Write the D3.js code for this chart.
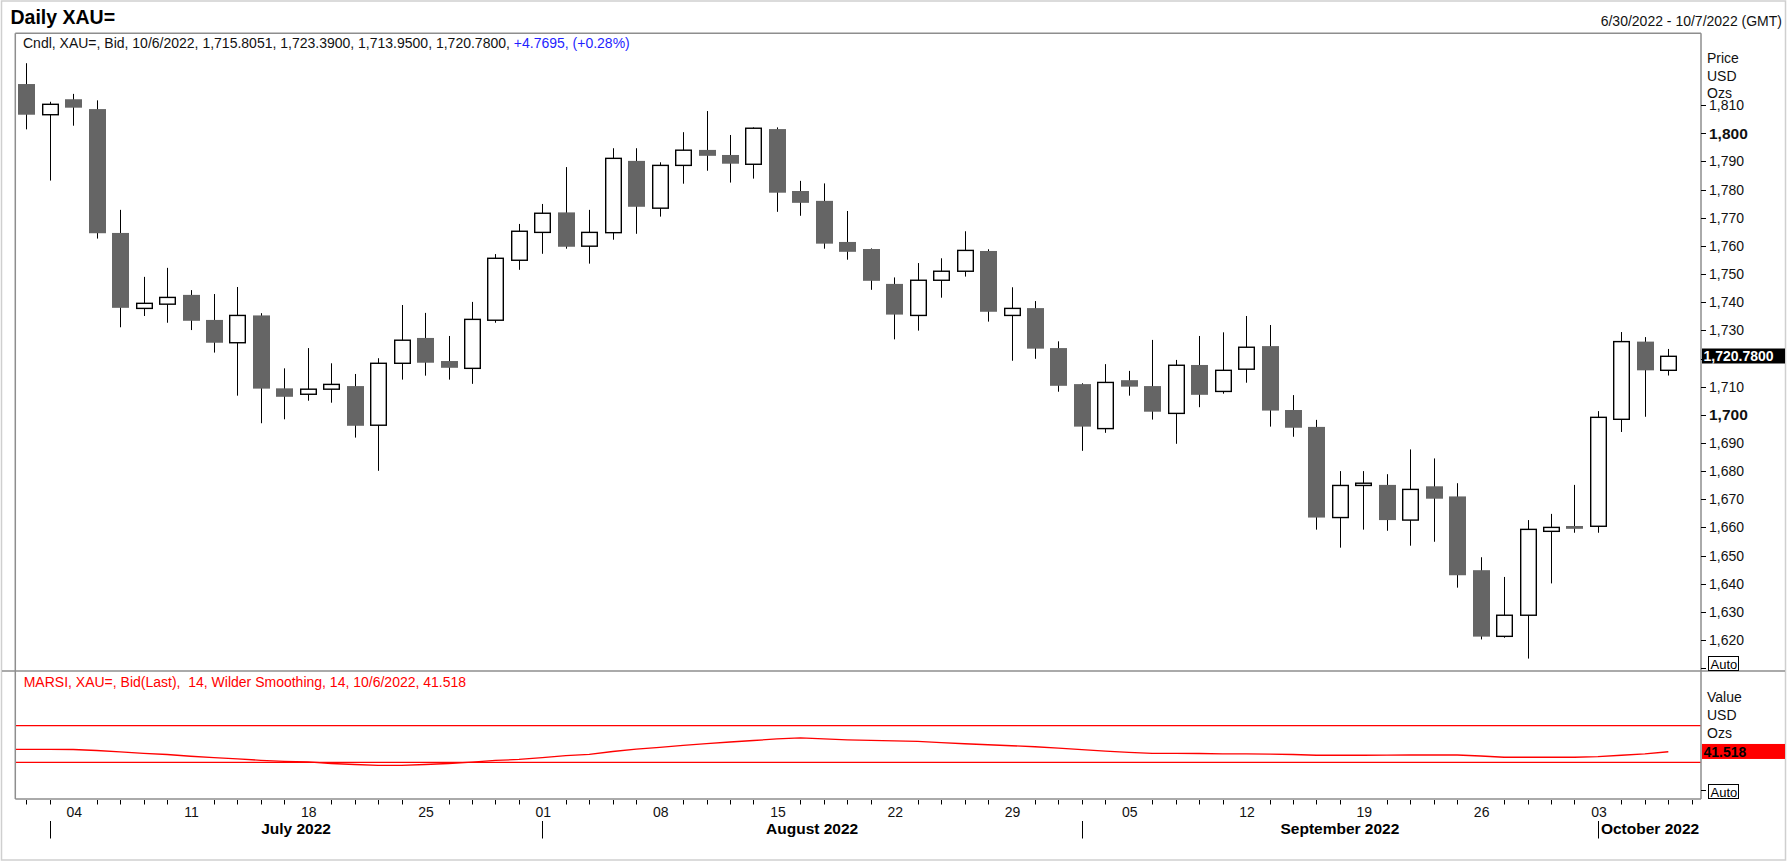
<!DOCTYPE html>
<html>
<head>
<meta charset="utf-8">
<script src="https://cdn.jsdelivr.net/npm/d3@7"></script>
<style>
html, body { margin: 0; padding: 0; background: #fff; }
svg { display: block; font-family: "Liberation Sans", Arial, sans-serif; }
</style>
</head>
<body>
<div id="container"></div>
<script>
/* DATA */
const tradeDates = [
  "2022-06-30",
  "2022-07-01", "2022-07-04", "2022-07-05", "2022-07-06", "2022-07-07", "2022-07-08",
  "2022-07-11", "2022-07-12", "2022-07-13", "2022-07-14", "2022-07-15",
  "2022-07-18", "2022-07-19", "2022-07-20", "2022-07-21", "2022-07-22",
  "2022-07-25", "2022-07-26", "2022-07-27", "2022-07-28", "2022-07-29",
  "2022-08-01", "2022-08-02", "2022-08-03", "2022-08-04", "2022-08-05",
  "2022-08-08", "2022-08-09", "2022-08-10", "2022-08-11", "2022-08-12",
  "2022-08-15", "2022-08-16", "2022-08-17", "2022-08-18", "2022-08-19",
  "2022-08-22", "2022-08-23", "2022-08-24", "2022-08-25", "2022-08-26",
  "2022-08-29", "2022-08-30", "2022-08-31", "2022-09-01", "2022-09-02",
  "2022-09-05", "2022-09-06", "2022-09-07", "2022-09-08", "2022-09-09",
  "2022-09-12", "2022-09-13", "2022-09-14", "2022-09-15", "2022-09-16",
  "2022-09-19", "2022-09-20", "2022-09-21", "2022-09-22", "2022-09-23",
  "2022-09-26", "2022-09-27", "2022-09-28", "2022-09-29", "2022-09-30",
  "2022-10-03", "2022-10-04", "2022-10-05", "2022-10-06", "2022-10-07"
];

// one value per trading day, Jun 30 .. Oct 6 (Oct 7 has no bar yet)
const opens = [
  1817.5, 1806.6, 1812.1, 1808.6, 1764.6, 1737.8, 1739.3, 1742.6, 1733.7, 1725.6, 1735.3, 1709.4,
  1707.3, 1709.1, 1710.2, 1696.3, 1718.3, 1727.3, 1719.1, 1716.5, 1733.6, 1754.9,
  1764.8, 1771.9, 1759.9, 1764.7, 1790.2, 1773.4, 1788.6, 1794.1, 1792.3, 1789.0,
  1801.5, 1779.5, 1776.0, 1761.4, 1758.9, 1746.5, 1735.3, 1747.8, 1751.0, 1758.2,
  1735.3, 1737.9, 1723.7, 1710.9, 1695.1, 1712.3, 1710.2, 1700.5, 1717.7, 1708.3,
  1716.2, 1724.4, 1701.7, 1695.7, 1663.5, 1674.9, 1675.1, 1662.6, 1674.6, 1671.0,
  1644.8, 1621.3, 1628.8, 1658.6, 1660.5, 1660.4, 1698.4, 1726.0, 1715.8051
];
const highs = [
  1824.9, 1811.2, 1814.0, 1811.7, 1772.8, 1749.0, 1752.2, 1744.3, 1742.9, 1745.4, 1736.1, 1716.5,
  1723.7, 1718.3, 1714.5, 1720.1, 1739.0, 1736.2, 1728.0, 1740.1, 1757.1, 1767.8,
  1774.9, 1788.0, 1772.8, 1794.7, 1794.7, 1789.7, 1800.4, 1807.9, 1799.4, 1802.1,
  1802.1, 1783.1, 1782.2, 1772.4, 1759.1, 1748.8, 1753.9, 1755.6, 1765.2, 1758.8,
  1745.3, 1740.4, 1726.1, 1711.2, 1718.0, 1715.6, 1726.6, 1719.5, 1728.0, 1729.3,
  1735.1, 1731.9, 1707.0, 1698.2, 1680.0, 1680.0, 1678.9, 1687.7, 1684.5, 1675.7,
  1649.4, 1642.4, 1662.6, 1664.8, 1675.1, 1701.3, 1729.4, 1727.6, 1723.39
];
const lows = [
  1801.4, 1783.2, 1802.7, 1762.6, 1731.1, 1735.1, 1732.7, 1730.1, 1722.1, 1706.8, 1697.0, 1698.4,
  1705.0, 1704.3, 1691.9, 1680.1, 1712.5, 1713.9, 1712.5, 1711.0, 1732.7, 1751.5,
  1757.2, 1759.0, 1753.7, 1762.2, 1764.3, 1770.4, 1782.1, 1786.7, 1782.5, 1783.9,
  1772.1, 1770.7, 1759.0, 1755.1, 1744.4, 1726.8, 1729.9, 1741.6, 1749.1, 1733.1,
  1719.2, 1719.9, 1708.2, 1687.2, 1693.6, 1706.8, 1698.3, 1689.7, 1702.7, 1707.5,
  1711.4, 1695.8, 1692.2, 1659.2, 1652.8, 1659.2, 1658.8, 1653.5, 1654.9, 1638.6,
  1620.2, 1620.8, 1613.4, 1640.1, 1658.1, 1658.1, 1693.9, 1699.3, 1713.95
];
const closes = [
  1806.6, 1810.3, 1809.1, 1764.5, 1738.0, 1739.6, 1741.7, 1733.4, 1725.6, 1735.3, 1709.3, 1706.4,
  1709.1, 1710.8, 1696.1, 1718.3, 1726.5, 1718.5, 1716.7, 1733.9, 1755.6, 1765.2,
  1771.6, 1759.7, 1764.8, 1791.1, 1773.9, 1788.6, 1794.0, 1792.0, 1789.2, 1801.8,
  1778.9, 1775.3, 1760.8, 1757.9, 1747.6, 1735.6, 1747.8, 1751.0, 1758.4, 1736.6,
  1737.8, 1723.5, 1710.3, 1695.8, 1711.5, 1710.0, 1701.1, 1717.6, 1707.1, 1715.8,
  1724.0, 1701.5, 1695.4, 1663.5, 1674.9, 1675.7, 1662.6, 1673.5, 1670.2, 1643.0,
  1621.2, 1628.8, 1659.3, 1660.0, 1659.5, 1699.1, 1726.0, 1715.8, 1720.78
];
const marsi = [
  44.2, 44.2, 44.0, 42.9, 41.3, 39.8, 38.5, 36.6, 35.2, 33.8, 32.2, 31.1,
  30.5, 28.7, 27.6, 26.7, 26.7, 27.6, 28.7, 30.3, 32.0, 33.1,
  35.0, 37.2, 38.7, 41.8, 44.3, 46.4, 48.4, 50.3, 52.2, 53.8,
  55.5, 56.6, 55.5, 54.6, 54.0, 53.5, 52.9, 51.6, 50.3, 49.2,
  48.1, 47.0, 45.6, 43.8, 42.3, 40.9, 39.8, 39.8, 39.6, 39.3,
  39.1, 38.9, 38.5, 37.7, 37.7, 37.7, 37.8, 38.0, 38.0, 38.0,
  36.9, 35.5, 35.5, 35.5, 35.5, 36.1, 37.7, 39.3, 41.518
];
const rsiLevels = [70, 30];

const tickDates = ["2022-07-04", "2022-07-11", "2022-07-18", "2022-07-25", "2022-08-01", "2022-08-08",
  "2022-08-15", "2022-08-22", "2022-08-29", "2022-09-05", "2022-09-12", "2022-09-19", "2022-09-26", "2022-10-03"];
const tickLabels = ["04", "11", "18", "25", "01", "08", "15", "22", "29", "05", "12", "19", "26", "03"];
const monthStarts = ["2022-07-01", "2022-08-01", "2022-09-01", "2022-10-03"];
const monthNames = ["July 2022", "August 2022", "September 2022", "October 2022"];

const priceTicks = d3.range(1610, 1811, 10);
const boldPrices = [1700, 1800];

/* LAYOUT */
const width = 1788, height = 862;
const panel = { left: 15.3, right: 1701, top: 33.3, mid: 671, bottom: 799 };
const axisX = 1709;
const frameColor = "#8e8e8e";

const svg = d3.select("#container").append("svg")
  .attr("width", width)
  .attr("height", height);

/* SCALES */
const xScale = d3.scalePoint()
  .domain(tradeDates)
  .range([14.6, 1703.5])
  .padding(0.5);

const yScale = d3.scaleLinear()
  .domain([1620, 1800])
  .range([640, 133.3]);

const rScale = d3.scaleLinear()
  .domain([30, 70])
  .range([762.3, 725.7]);

const px = d => Math.round(xScale(d));

// outer frame
svg.append("rect")
  .attr("x", 1.5).attr("y", 1).attr("width", 1784).attr("height", 859)
  .attr("fill", "none").attr("stroke", "#cfcfcf").attr("stroke-width", 1.5);

// titles
svg.append("text")
  .attr("x", 10.5).attr("y", 24)
  .attr("font-size", "19.5px").attr("font-weight", "bold")
  .attr("fill", "#000")
  .text("Daily XAU=");

svg.append("text")
  .attr("x", 1782).attr("y", 26)
  .attr("text-anchor", "end")
  .attr("font-size", "14px").attr("fill", "#111")
  .text("6/30/2022 - 10/7/2022 (GMT)");

const legend = svg.append("text")
  .attr("x", 23).attr("y", 48)
  .attr("font-size", "14px");
legend.append("tspan").attr("fill", "#111")
  .text("Cndl, XAU=, Bid, 10/6/2022, 1,715.8051, 1,723.3900, 1,713.9500, 1,720.7800, ");
legend.append("tspan").attr("fill", "#1f1fff")
  .text("+4.7695, (+0.28%)");

/* CANDLES */
const candles = opens.map((o, i) => ({
  date: tradeDates[i], open: o, high: highs[i], low: lows[i], close: closes[i]
}));

const gC = svg.append("g");
gC.selectAll("line.wick")
  .data(candles)
  .join("line")
  .attr("class", "wick")
  .attr("x1", d => px(d.date) + 0.5)
  .attr("x2", d => px(d.date) + 0.5)
  .attr("y1", d => yScale(d.high))
  .attr("y2", d => yScale(d.low))
  .attr("stroke", "#000")
  .attr("stroke-width", 1);

gC.selectAll("rect.body")
  .data(candles)
  .join("rect")
  .attr("class", "body")
  .attr("x", d => d.close >= d.open ? px(d.date) - 7.3 : px(d.date) - 8)
  .attr("width", d => d.close >= d.open ? 15.6 : 17)
  .attr("y", d => yScale(Math.max(d.open, d.close)))
  .attr("height", d => Math.max(1.5, Math.abs(yScale(d.open) - yScale(d.close))))
  .attr("fill", d => d.close >= d.open ? "#fff" : "#656565")
  .attr("stroke", d => d.close >= d.open ? "#000" : "none")
  .attr("stroke-width", 1.4);

/* RSI PANEL */
rsiLevels.forEach(v => {
  svg.append("line")
    .attr("x1", panel.left).attr("x2", panel.right)
    .attr("y1", rScale(v)).attr("y2", rScale(v))
    .attr("stroke", "#ff0000").attr("stroke-width", 1.3);
});

const rsiPts = [[panel.left, marsi[0]]].concat(marsi.map((v, i) => [xScale(tradeDates[i]), v]));
svg.append("path")
  .datum(rsiPts)
  .attr("fill", "none")
  .attr("stroke", "#ff0000")
  .attr("stroke-width", 1.3)
  .attr("d", d3.line().x(d => d[0]).y(d => rScale(d[1])));

svg.append("text")
  .attr("x", 23.7).attr("y", 687.3)
  .attr("font-size", "14px").attr("fill", "#ff0000")
  .attr("xml:space", "preserve")
  .text("MARSI, XAU=, Bid(Last),  14, Wilder Smoothing, 14, 10/6/2022, 41.518");

/* PANEL FRAMES */
const frame = svg.append("g").attr("stroke", frameColor).attr("stroke-width", 1.5);
frame.append("line").attr("x1", panel.left).attr("x2", panel.right).attr("y1", panel.top).attr("y2", panel.top);
frame.append("line").attr("x1", panel.left).attr("x2", panel.left).attr("y1", panel.top).attr("y2", panel.bottom);
frame.append("line").attr("x1", panel.right).attr("x2", panel.right).attr("y1", panel.top).attr("y2", panel.bottom);
frame.append("line").attr("x1", 2).attr("x2", 1785).attr("y1", panel.mid).attr("y2", panel.mid);
frame.append("line").attr("x1", panel.left).attr("x2", panel.right).attr("y1", panel.bottom).attr("y2", panel.bottom);

/* PRICE AXIS */
const lastClose = closes[closes.length - 1];
const gY = svg.append("g");
gY.selectAll("line.ytick")
  .data(priceTicks)
  .join("line")
  .attr("class", "ytick")
  .attr("x1", panel.right).attr("x2", panel.right + 5)
  .attr("y1", d => Math.round(yScale(d)) + 0.5)
  .attr("y2", d => Math.round(yScale(d)) + 0.5)
  .attr("stroke", "#000");

// labels hidden under the last-price tag are left out, as in the original
gY.selectAll("text.ylab")
  .data(priceTicks.filter(d => d >= 1620 && Math.abs(yScale(d) - yScale(lastClose)) > 9))
  .join("text")
  .attr("class", "ylab")
  .attr("x", axisX)
  .attr("y", d => yScale(d))
  .attr("dy", "0.36em")
  .attr("font-size", d => boldPrices.includes(d) ? "15.5px" : "14px")
  .attr("font-weight", d => boldPrices.includes(d) ? "bold" : "normal")
  .attr("fill", "#111")
  .text(d => d3.format(",")(d));

[["Price", 62.5], ["USD", 80.5], ["Ozs", 97.5]].forEach(([t, y]) => {
  svg.append("text").attr("x", 1707).attr("y", y)
    .attr("font-size", "14px").attr("fill", "#111").text(t);
});

// last price tag
svg.append("rect")
  .attr("x", 1702).attr("y", yScale(lastClose) - 7.8)
  .attr("width", 83).attr("height", 15)
  .attr("fill", "#000");
svg.append("text")
  .attr("x", 1703.5).attr("y", yScale(lastClose))
  .attr("dy", "0.36em")
  .attr("font-size", "14px").attr("font-weight", "bold").attr("fill", "#fff")
  .text(d3.format(",.4f")(lastClose));

// Auto boxes
function autoBox(y) {
  svg.append("rect")
    .attr("x", 1708.5).attr("y", y).attr("width", 30).attr("height", 14)
    .attr("fill", "#fff").attr("stroke", "#000").attr("stroke-width", 1);
  svg.append("text")
    .attr("x", 1710.5).attr("y", y + 12)
    .attr("font-size", "13px").attr("fill", "#000").text("Auto");
}
autoBox(656.5);

/* RSI AXIS */
[["Value", 701.7], ["USD", 720], ["Ozs", 737.7]].forEach(([t, y]) => {
  svg.append("text").attr("x", 1707).attr("y", y)
    .attr("font-size", "14px").attr("fill", "#111").text(t);
});
const lastRsi = marsi[marsi.length - 1];
svg.append("rect")
  .attr("x", 1702).attr("y", rScale(lastRsi) - 7.8)
  .attr("width", 83).attr("height", 15)
  .attr("fill", "#ff0000");
svg.append("text")
  .attr("x", 1703.5).attr("y", rScale(lastRsi))
  .attr("dy", "0.36em")
  .attr("font-size", "14px").attr("font-weight", "bold").attr("fill", "#000")
  .text(d3.format(".3f")(lastRsi));
svg.append("line")
  .attr("x1", panel.right).attr("x2", panel.right + 5)
  .attr("y1", Math.round(rScale(0)) + 0.5).attr("y2", Math.round(rScale(0)) + 0.5)
  .attr("stroke", "#000");
autoBox(784.5);

/* DATE AXIS */
const gX = svg.append("g");
gX.selectAll("line.xtick")
  .data(tradeDates.filter(d => !tickDates.includes(d)))
  .join("line")
  .attr("class", "xtick")
  .attr("x1", d => px(d) + 0.5).attr("x2", d => px(d) + 0.5)
  .attr("y1", panel.bottom + 1).attr("y2", panel.bottom + 5.5)
  .attr("stroke", "#000");

gX.selectAll("text.xlab")
  .data(tickDates)
  .join("text")
  .attr("class", "xlab")
  .attr("x", d => xScale(d) + 1)
  .attr("y", 811.7)
  .attr("dy", "0.36em")
  .attr("text-anchor", "middle")
  .attr("font-size", "14px")
  .attr("fill", "#111")
  .text((d, i) => tickLabels[i]);

gX.selectAll("line.msep")
  .data(monthStarts)
  .join("line")
  .attr("class", "msep")
  .attr("x1", d => px(d) + 0.5).attr("x2", d => px(d) + 0.5)
  .attr("y1", 821).attr("y2", 838.5)
  .attr("stroke", "#000");

gX.selectAll("text.mlab")
  .data(monthNames)
  .join("text")
  .attr("class", "mlab")
  .attr("x", (d, i) => i < monthStarts.length - 1
    ? (xScale(monthStarts[i]) + xScale(monthStarts[i + 1])) / 2
    : xScale(monthStarts[i]) + 3)
  .attr("y", 833.5)
  .attr("text-anchor", (d, i) => i < monthStarts.length - 1 ? "middle" : "start")
  .attr("font-size", "15.5px")
  .attr("font-weight", "bold")
  .attr("fill", "#000")
  .text(d => d);
</script>
</body>
</html>
